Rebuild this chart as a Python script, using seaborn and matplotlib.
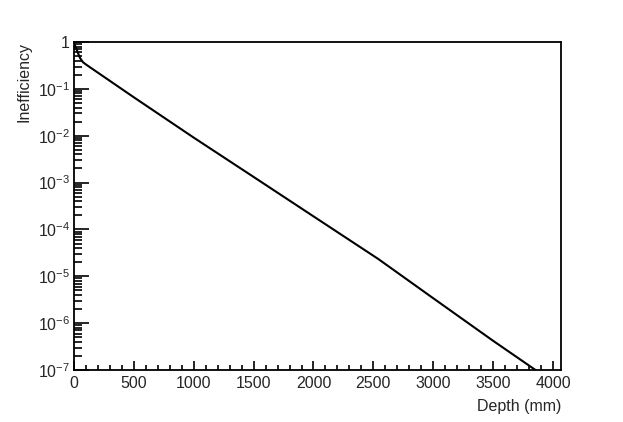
import numpy as np
import pandas as pd
import matplotlib
matplotlib.use("Agg")
import matplotlib.pyplot as plt
import matplotlib.ticker as mticker
import seaborn as sns

# values (log-scale curve)
depth = [0, 10, 25, 50, 75, 100, 500, 1000, 1500,
         2000, 2540, 3000, 3500, 3880]
ineff = [1.0, 0.83, 0.66, 0.457, 0.37, 0.331, 0.066, 9.1e-3, 1.32e-3,
         1.9e-4, 2.35e-5, 3.4e-6, 4.2e-7, 9.0e-8]

ytick_vals = [1e-7, 1e-6, 1e-5, 1e-4, 1e-3, 1e-2, 1e-1, 1]
ytick_labels = [r"$\mathregular{10^{-7}}$", r"$\mathregular{10^{-6}}$",
                r"$\mathregular{10^{-5}}$", r"$\mathregular{10^{-4}}$",
                r"$\mathregular{10^{-3}}$", r"$\mathregular{10^{-2}}$",
                r"$\mathregular{10^{-1}}$", "1"]
xtick_vals = [0, 500, 1000, 1500, 2000, 2500, 3000, 3500, 4000]

sns.set_style("ticks")
plt.rcParams["font.family"] = ["Liberation Sans", "DejaVu Sans"]
plt.rcParams["mathtext.fontset"] = "custom"
plt.rcParams["mathtext.rm"] = "Liberation Sans"

df = pd.DataFrame({"depth": depth, "ineff": ineff})

fig = plt.figure(figsize=(6.23, 4.22), dpi=100)
ax = fig.add_axes([74 / 623, 52 / 422, 487 / 623, 328 / 422])

sns.lineplot(data=df, x="depth", y="ineff", ax=ax, color="black", linewidth=1.5)

ax.set_yscale("log")
ax.set_xlim(0, 4067)
ax.set_ylim(1e-7, 1)

ax.set_xticks(xtick_vals)
ax.set_xticklabels([str(v) for v in xtick_vals])
ax.xaxis.set_minor_locator(mticker.MultipleLocator(100))
ax.set_yticks(ytick_vals)
ax.set_yticklabels(ytick_labels)
ax.yaxis.set_minor_locator(mticker.LogLocator(base=10, subs=np.arange(2, 10), numticks=20))
ax.yaxis.set_minor_formatter(mticker.NullFormatter())

ax.tick_params(axis="both", which="both", direction="in", color="black",
               labelsize=11.5, top=False, right=False)
ax.tick_params(axis="x", which="major", length=6.5, width=1.2, pad=4)
ax.tick_params(axis="x", which="minor", length=3.6, width=1.2)
ax.tick_params(axis="y", which="major", length=10.8, width=1.2, pad=3)
ax.tick_params(axis="y", which="minor", length=5.5, width=1.2)

for sp in ax.spines.values():
    sp.set_linewidth(1.3)
    sp.set_color("black")
    sp.set_visible(True)

ax.set_xlabel("Depth (mm)", loc="right", fontsize=11.5, labelpad=6)
ax.set_ylabel("Inefficiency", loc="top", fontsize=11.5, labelpad=4)

fig.savefig("out.png", dpi=100, facecolor="white")
